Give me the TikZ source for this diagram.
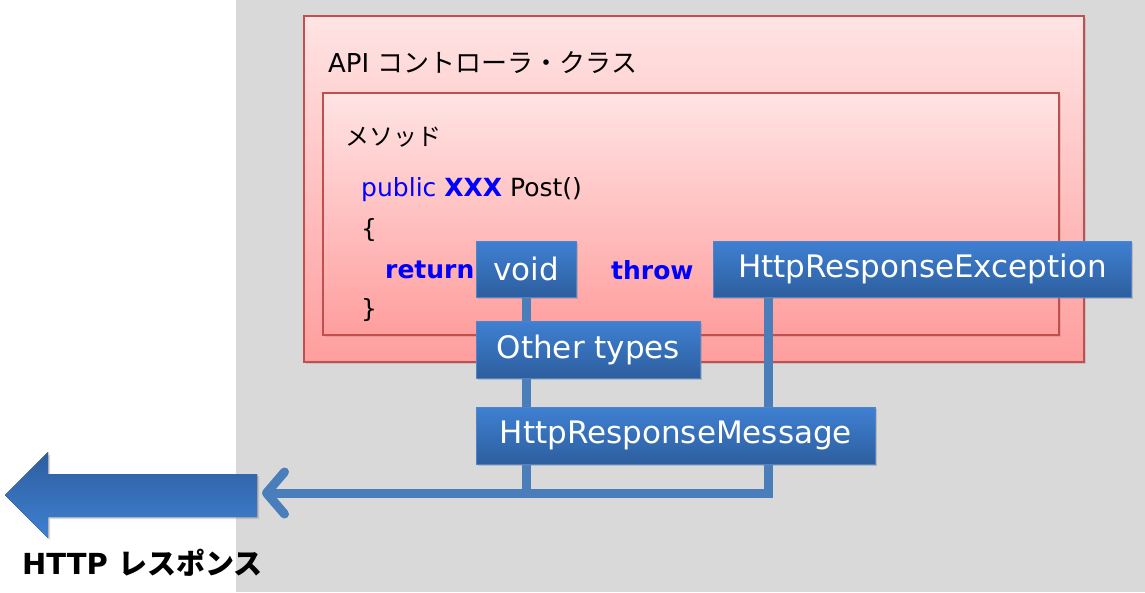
\documentclass[tikz,border=0pt]{standalone}
\usepackage{fontspec}
\setmainfont{DejaVu Sans}
\newfontfamily\jp{Noto Sans CJK JP}
\usetikzlibrary{arrows.meta,shadows}

\definecolor{bggray}{HTML}{D9D9D9}
\definecolor{pinktop}{HTML}{FFE4E4}
\definecolor{pinkbot}{HTML}{FF9E9E}
\definecolor{pinkedge}{HTML}{C0504D}
\definecolor{boxtop}{HTML}{3F80D2}
\definecolor{boxbot}{HTML}{2D5E9E}
\definecolor{boxedge}{HTML}{4F85C8}
\definecolor{linkblue}{HTML}{4A7EBB}
\definecolor{kwblue}{HTML}{0000FF}

\pgfdeclarelayer{back}
\pgfdeclarelayer{mid}
\pgfsetlayers{back,mid,main}

\begin{document}
\begin{tikzpicture}[
     x = 1pt, y = -1pt,
     classbox/.style = {draw=pinkedge, line width=1.5pt, top color=pinktop,
       bottom color=pinkbot, anchor=north west, inner sep=0pt,
       drop shadow={opacity=0.25, shadow xshift=2pt, shadow yshift=-2pt}},
     typebox/.style = {draw=boxedge, line width=0.8pt, top color=boxtop,
       bottom color=boxbot, text=white, anchor=north west,
       font=\fontsize{31}{36}\selectfont,
       drop shadow={opacity=0.35, shadow xshift=2pt, shadow yshift=-2pt}},
     code/.style = {anchor=west, inner sep=0pt, font=\fontsize{25}{30}\selectfont},
     link/.style = {draw=linkblue, line width=9pt}
    ]
    \tikzstyle{title}=[anchor=west, inner sep=0pt, font=\fontsize{26}{31}\selectfont]
    \tikzstyle{kw}=[code, text=kwblue, font=\bfseries\fontsize{25}{30}\selectfont]

    % background and containers
    \begin{pgfonlayer}{back}
      \fill[white] (0,0) rectangle (1145,592);
      \fill[bggray] (236,0) rectangle (1145,592);
      \node[classbox, minimum width=780pt, minimum height=346pt] (ctrl) at (303,15) {};
      \node[classbox, minimum width=736pt, minimum height=242pt] (meth) at (322,92) {};
    \end{pgfonlayer}
    \useasboundingbox (0,0) rectangle (1145,592);

    \node[title] (ctrltitle) at (328,63) {API {\jp コントローラ・クラス}};
    \node[title, font=\fontsize{24}{29}\selectfont] (methtitle) at (345,137) {\jp メソッド};

    \node[code] (sig) at (361,190)
      {{\color{kwblue}public} {\color{kwblue}\bfseries XXX} Post()};
    \node[code] (open) at (361,230) {\{};
    \node[kw] (ret) at (385,270) {return};
    \node[kw] (thr) at (611,270) {throw};
    \node[code] (close) at (361,310) {\}};

    % return types
    \node[typebox, minimum width=100pt, minimum height=56pt] (void) at (476,241) {void};
    \node[typebox, minimum width=224pt, minimum height=57pt] (other) at (476,321) {Other types};
    \node[typebox, minimum width=399pt, minimum height=57pt] (msg) at (476,407) {HttpResponseMessage};
    \node[typebox, minimum width=418pt, minimum height=56pt] (exc) at (713,241) {HttpResponseException};

    % response arrow
    \fill[top color=boxbot, bottom color=boxtop,
          drop shadow={opacity=0.3, shadow xshift=2pt, shadow yshift=-2pt}]
      (257,474) -- (48,474) -- (48,452) -- (5,495) -- (48,538)
      -- (48,517) -- (257,517) -- cycle;
    \coordinate (resp) at (262,493);
    \node[anchor=west, inner sep=0pt, font=\bfseries\fontsize{29}{34}\selectfont]
      (resplabel) at (22,563) {HTTP {\jp\bfseries レスポンス}};

    \begin{pgfonlayer}{mid}
      \draw[link] (void.south) -- (void.south |- resp);
      \draw[link, -{Straight Barb[length=18pt, width=42pt, line cap=round, line join=round]}]
        ([xshift=55pt]exc.south west) |- (resp);
    \end{pgfonlayer}
   \end{tikzpicture}
\end{document}
